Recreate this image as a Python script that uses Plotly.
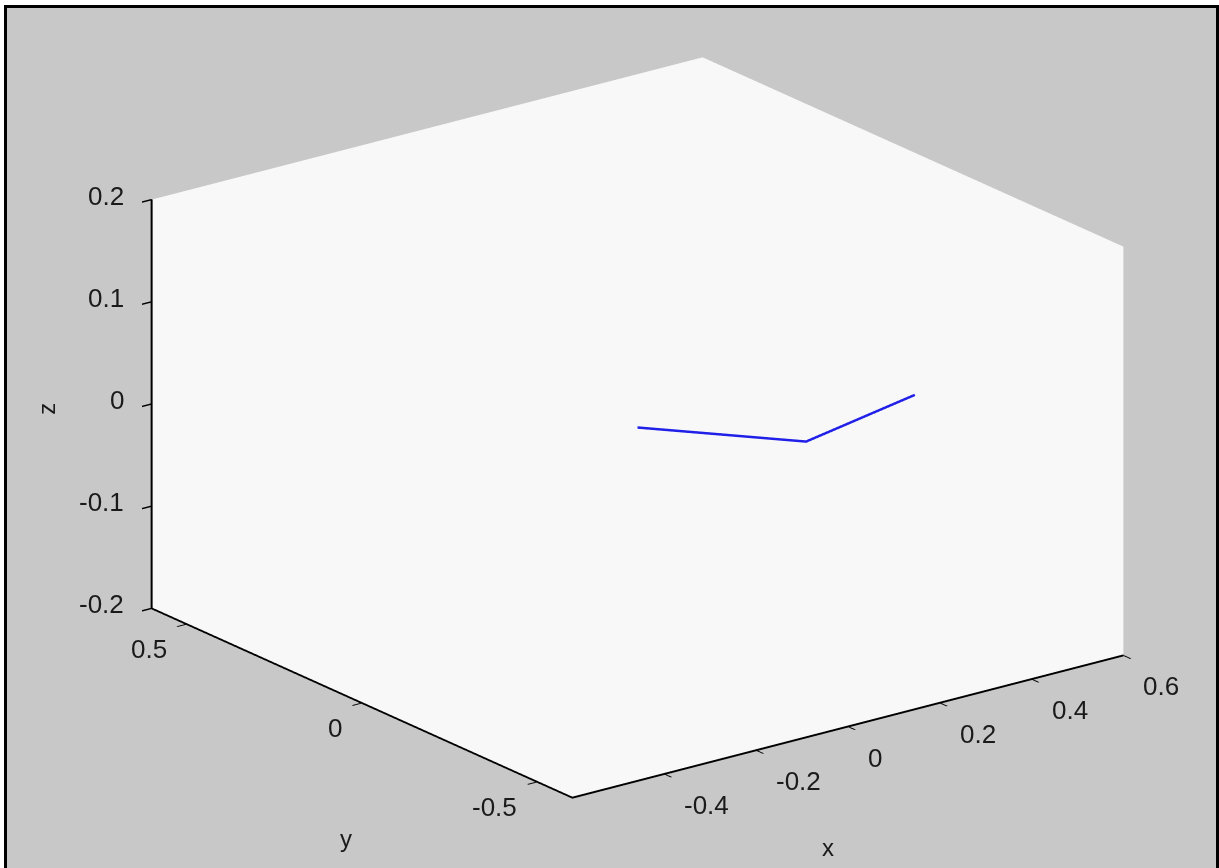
import plotly.graph_objects as go

# Data: planar two-link arm (z = 0)
x_vals = [0.0, 0.19, 0.484]
y_vals = [0.0, -0.232, -0.157]
z_vals = [0.0, 0.0, 0.0]

x_ticks = [-0.4, -0.2, 0, 0.2, 0.4, 0.6]
y_ticks = [-0.5, 0, 0.5]
z_ticks = [-0.2, -0.1, 0, 0.1, 0.2]
x_range = [-0.6, 0.6]
y_range = [-0.6, 0.6]
z_range = [-0.2, 0.2]

FONT = "Liberation Sans, Arial, sans-serif"
TXT = "#1a1a1a"
FS = 26

fig = go.Figure()
fig.add_trace(go.Scatter3d(
    x=x_vals, y=y_vals, z=z_vals, mode="lines",
    line=dict(color="#2020e8", width=5), showlegend=False, hoverinfo="skip"))

def ax(rng, ticks):
    return dict(
        title=dict(text=""),
        range=rng, tickvals=ticks, showticklabels=False,
        showbackground=True, backgroundcolor="#f8f8f8",
        showgrid=False, zeroline=False, showline=True, linecolor="black", linewidth=4,
        ticks="outside", tickcolor="black", ticklen=12, tickwidth=3,
        showspikes=False, autorange=False)

def lab(v):
    return "%g" % v

annotations = []
for t in x_ticks:
    annotations.append(dict(x=t, y=y_range[0], z=z_range[0], text=lab(t), showarrow=False,
                            xanchor="left", yanchor="middle", xshift=18, yshift=-31,
                            font=dict(size=FS, color=TXT, family=FONT)))
for t in y_ticks:
    annotations.append(dict(x=x_range[0], y=t, z=z_range[0], text=lab(t), showarrow=False,
                            xanchor="right", yanchor="middle", xshift=-18, yshift=-25,
                            font=dict(size=FS, color=TXT, family=FONT)))
for t in z_ticks:
    annotations.append(dict(x=x_range[0], y=y_range[1], z=t, text=lab(t), showarrow=False,
                            xanchor="right", yanchor="middle", xshift=-26, yshift=4,
                            font=dict(size=FS, color=TXT, family=FONT)))
# axis titles
annotations.append(dict(x=-0.05, y=y_range[0], z=z_range[0], text="x", showarrow=False,
                        xanchor="center", yanchor="middle", xshift=3, yshift=-115,
                        font=dict(size=FS - 2, color=TXT, family=FONT)))
annotations.append(dict(x=x_range[0], y=0.0, z=z_range[0], text="y", showarrow=False,
                        xanchor="center", yanchor="middle", xshift=-16, yshift=-135,
                        font=dict(size=FS - 2, color=TXT, family=FONT)))
annotations.append(dict(x=x_range[0], y=y_range[1], z=0.0, text="z", showarrow=False,
                        xanchor="center", yanchor="middle", xshift=-105, yshift=-5, textangle=-90,
                        font=dict(size=FS - 2, color=TXT, family=FONT)))

n = (-0.5676, -0.7493, 0.3408)
k = 2.0
s = 1.617
W, H = 1219, 868
fig.update_layout(
    width=W, height=H,
    paper_bgcolor="#c8c8c8",
    font=dict(family=FONT),
    margin=dict(l=0, r=0, t=0, b=0),
    scene=dict(
        domain=dict(x=[0.046, 1.0], y=[0.015, 1.0]),
        xaxis=ax(x_range, x_ticks),
        yaxis=ax(y_range, y_ticks),
        zaxis=ax(z_range, z_ticks),
        aspectmode="manual", aspectratio=dict(x=1.0*s, y=1.008*s, z=0.629*s),
        camera=dict(eye=dict(x=n[0]*k, y=n[1]*k, z=n[2]*k),
                    up=dict(x=0, y=0, z=1), center=dict(x=0, y=0, z=0),
                    projection=dict(type="orthographic")),
        annotations=annotations,
    ),
    shapes=[
        dict(type="rect", xref="paper", yref="paper", x0=0, x1=4/W, y0=0, y1=1,
             fillcolor="white", line=dict(width=0)),
        dict(type="rect", xref="paper", yref="paper", x0=0, x1=1, y0=1-5/H, y1=1,
             fillcolor="white", line=dict(width=0)),
        dict(type="rect", xref="paper", yref="paper", x0=4/W, x1=7/W, y0=0, y1=1-5/H,
             fillcolor="black", line=dict(width=0)),
        dict(type="rect", xref="paper", yref="paper", x0=4/W, x1=1, y0=1-8/H, y1=1-5/H,
             fillcolor="black", line=dict(width=0)),
        dict(type="rect", xref="paper", yref="paper", x0=1-3/W, x1=1, y0=0, y1=1-5/H,
             fillcolor="black", line=dict(width=0)),
    ],
)
fig.write_html("out.html", config={"displayModeBar": False},
               post_script="document.body.style.margin='0';document.body.style.overflow='hidden';")
